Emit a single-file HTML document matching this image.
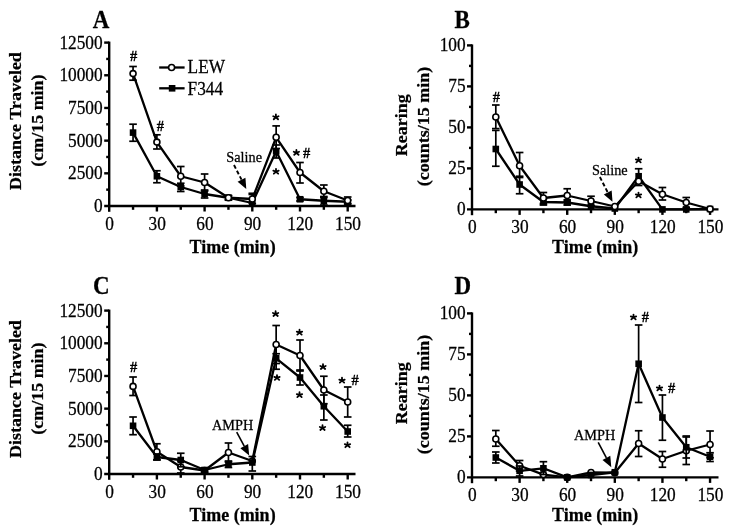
<!DOCTYPE html>
<html><head><meta charset="utf-8"><style>
html,body{margin:0;padding:0;background:#fff;}
body{width:732px;height:531px;overflow:hidden;}
svg{display:block;filter:grayscale(1);}
text{font-family:"Liberation Serif",serif;fill:#000;stroke:#000;stroke-width:0.25px;}
.t{font-size:17.3px;}
.b{font-size:18px;font-weight:bold;}
.L{font-size:23px;font-weight:bold;}
.a{font-size:14.3px;}
.s{font-size:14.5px;}
.h{font-size:14.5px;font-weight:bold;}
</style></head><body>
<svg width="732" height="531" viewBox="0 0 732 531">
<rect width="732" height="531" fill="#fff"/>
<line x1="109.2" y1="41.6" x2="109.2" y2="211.8" stroke="#000" stroke-width="2.4"/>
<line x1="104.2" y1="206" x2="355.5" y2="206" stroke="#000" stroke-width="2.4"/>
<text transform="translate(102.6,212.04) scale(1,1.04)" text-anchor="end" class="t">0</text>
<line x1="106.2" y1="189.66" x2="109.2" y2="189.66" stroke="#000" stroke-width="2.4"/>
<line x1="104.2" y1="173.32" x2="109.2" y2="173.32" stroke="#000" stroke-width="2.4"/>
<text transform="translate(102.6,179.36) scale(1,1.04)" text-anchor="end" class="t">2500</text>
<line x1="106.2" y1="156.98" x2="109.2" y2="156.98" stroke="#000" stroke-width="2.4"/>
<line x1="104.2" y1="140.64" x2="109.2" y2="140.64" stroke="#000" stroke-width="2.4"/>
<text transform="translate(102.6,146.68) scale(1,1.04)" text-anchor="end" class="t">5000</text>
<line x1="106.2" y1="124.3" x2="109.2" y2="124.3" stroke="#000" stroke-width="2.4"/>
<line x1="104.2" y1="107.96" x2="109.2" y2="107.96" stroke="#000" stroke-width="2.4"/>
<text transform="translate(102.6,114) scale(1,1.04)" text-anchor="end" class="t">7500</text>
<line x1="106.2" y1="91.62" x2="109.2" y2="91.62" stroke="#000" stroke-width="2.4"/>
<line x1="104.2" y1="75.28" x2="109.2" y2="75.28" stroke="#000" stroke-width="2.4"/>
<text transform="translate(102.6,81.32) scale(1,1.04)" text-anchor="end" class="t">10000</text>
<line x1="106.2" y1="58.94" x2="109.2" y2="58.94" stroke="#000" stroke-width="2.4"/>
<line x1="104.2" y1="42.6" x2="109.2" y2="42.6" stroke="#000" stroke-width="2.4"/>
<text transform="translate(102.6,48.64) scale(1,1.04)" text-anchor="end" class="t">12500</text>
<text transform="translate(109.5,229.6) scale(1,1.04)" text-anchor="middle" class="t">0</text>
<line x1="133.05" y1="206" x2="133.05" y2="209.8" stroke="#000" stroke-width="2.4"/>
<line x1="156.9" y1="206" x2="156.9" y2="211.5" stroke="#000" stroke-width="2.4"/>
<text transform="translate(157.2,229.6) scale(1,1.04)" text-anchor="middle" class="t">30</text>
<line x1="180.75" y1="206" x2="180.75" y2="209.8" stroke="#000" stroke-width="2.4"/>
<line x1="204.6" y1="206" x2="204.6" y2="211.5" stroke="#000" stroke-width="2.4"/>
<text transform="translate(204.9,229.6) scale(1,1.04)" text-anchor="middle" class="t">60</text>
<line x1="228.45" y1="206" x2="228.45" y2="209.8" stroke="#000" stroke-width="2.4"/>
<line x1="252.3" y1="206" x2="252.3" y2="211.5" stroke="#000" stroke-width="2.4"/>
<text transform="translate(252.6,229.6) scale(1,1.04)" text-anchor="middle" class="t">90</text>
<line x1="276.15" y1="206" x2="276.15" y2="209.8" stroke="#000" stroke-width="2.4"/>
<line x1="300" y1="206" x2="300" y2="211.5" stroke="#000" stroke-width="2.4"/>
<text transform="translate(300.3,229.6) scale(1,1.04)" text-anchor="middle" class="t">120</text>
<line x1="323.85" y1="206" x2="323.85" y2="209.8" stroke="#000" stroke-width="2.4"/>
<line x1="347.7" y1="206" x2="347.7" y2="211.5" stroke="#000" stroke-width="2.4"/>
<text transform="translate(348,229.6) scale(1,1.04)" text-anchor="middle" class="t">150</text>
<line x1="472" y1="44.4" x2="472" y2="215.2" stroke="#000" stroke-width="2.4"/>
<line x1="467" y1="209.4" x2="718.5" y2="209.4" stroke="#000" stroke-width="2.4"/>
<text transform="translate(465.6,215.44) scale(1,1.04)" text-anchor="end" class="t">0</text>
<line x1="469" y1="188.9" x2="472" y2="188.9" stroke="#000" stroke-width="2.4"/>
<line x1="467" y1="168.4" x2="472" y2="168.4" stroke="#000" stroke-width="2.4"/>
<text transform="translate(465.6,174.44) scale(1,1.04)" text-anchor="end" class="t">25</text>
<line x1="469" y1="147.9" x2="472" y2="147.9" stroke="#000" stroke-width="2.4"/>
<line x1="467" y1="127.4" x2="472" y2="127.4" stroke="#000" stroke-width="2.4"/>
<text transform="translate(465.6,133.44) scale(1,1.04)" text-anchor="end" class="t">50</text>
<line x1="469" y1="106.9" x2="472" y2="106.9" stroke="#000" stroke-width="2.4"/>
<line x1="467" y1="86.4" x2="472" y2="86.4" stroke="#000" stroke-width="2.4"/>
<text transform="translate(465.6,92.44) scale(1,1.04)" text-anchor="end" class="t">75</text>
<line x1="469" y1="65.9" x2="472" y2="65.9" stroke="#000" stroke-width="2.4"/>
<line x1="467" y1="45.4" x2="472" y2="45.4" stroke="#000" stroke-width="2.4"/>
<text transform="translate(465.6,51.44) scale(1,1.04)" text-anchor="end" class="t">100</text>
<text transform="translate(472.3,233) scale(1,1.04)" text-anchor="middle" class="t">0</text>
<line x1="495.81" y1="209.4" x2="495.81" y2="213.2" stroke="#000" stroke-width="2.4"/>
<line x1="519.61" y1="209.4" x2="519.61" y2="214.9" stroke="#000" stroke-width="2.4"/>
<text transform="translate(519.91,233) scale(1,1.04)" text-anchor="middle" class="t">30</text>
<line x1="543.41" y1="209.4" x2="543.41" y2="213.2" stroke="#000" stroke-width="2.4"/>
<line x1="567.22" y1="209.4" x2="567.22" y2="214.9" stroke="#000" stroke-width="2.4"/>
<text transform="translate(567.52,233) scale(1,1.04)" text-anchor="middle" class="t">60</text>
<line x1="591.02" y1="209.4" x2="591.02" y2="213.2" stroke="#000" stroke-width="2.4"/>
<line x1="614.83" y1="209.4" x2="614.83" y2="214.9" stroke="#000" stroke-width="2.4"/>
<text transform="translate(615.13,233) scale(1,1.04)" text-anchor="middle" class="t">90</text>
<line x1="638.63" y1="209.4" x2="638.63" y2="213.2" stroke="#000" stroke-width="2.4"/>
<line x1="662.44" y1="209.4" x2="662.44" y2="214.9" stroke="#000" stroke-width="2.4"/>
<text transform="translate(662.74,233) scale(1,1.04)" text-anchor="middle" class="t">120</text>
<line x1="686.25" y1="209.4" x2="686.25" y2="213.2" stroke="#000" stroke-width="2.4"/>
<line x1="710.05" y1="209.4" x2="710.05" y2="214.9" stroke="#000" stroke-width="2.4"/>
<text transform="translate(710.35,233) scale(1,1.04)" text-anchor="middle" class="t">150</text>
<line x1="109.2" y1="309.6" x2="109.2" y2="479.8" stroke="#000" stroke-width="2.4"/>
<line x1="104.2" y1="474" x2="355.5" y2="474" stroke="#000" stroke-width="2.4"/>
<text transform="translate(102.6,480.04) scale(1,1.04)" text-anchor="end" class="t">0</text>
<line x1="106.2" y1="457.66" x2="109.2" y2="457.66" stroke="#000" stroke-width="2.4"/>
<line x1="104.2" y1="441.32" x2="109.2" y2="441.32" stroke="#000" stroke-width="2.4"/>
<text transform="translate(102.6,447.36) scale(1,1.04)" text-anchor="end" class="t">2500</text>
<line x1="106.2" y1="424.98" x2="109.2" y2="424.98" stroke="#000" stroke-width="2.4"/>
<line x1="104.2" y1="408.64" x2="109.2" y2="408.64" stroke="#000" stroke-width="2.4"/>
<text transform="translate(102.6,414.68) scale(1,1.04)" text-anchor="end" class="t">5000</text>
<line x1="106.2" y1="392.3" x2="109.2" y2="392.3" stroke="#000" stroke-width="2.4"/>
<line x1="104.2" y1="375.96" x2="109.2" y2="375.96" stroke="#000" stroke-width="2.4"/>
<text transform="translate(102.6,382) scale(1,1.04)" text-anchor="end" class="t">7500</text>
<line x1="106.2" y1="359.62" x2="109.2" y2="359.62" stroke="#000" stroke-width="2.4"/>
<line x1="104.2" y1="343.28" x2="109.2" y2="343.28" stroke="#000" stroke-width="2.4"/>
<text transform="translate(102.6,349.32) scale(1,1.04)" text-anchor="end" class="t">10000</text>
<line x1="106.2" y1="326.94" x2="109.2" y2="326.94" stroke="#000" stroke-width="2.4"/>
<line x1="104.2" y1="310.6" x2="109.2" y2="310.6" stroke="#000" stroke-width="2.4"/>
<text transform="translate(102.6,316.64) scale(1,1.04)" text-anchor="end" class="t">12500</text>
<text transform="translate(109.5,497.6) scale(1,1.04)" text-anchor="middle" class="t">0</text>
<line x1="133.05" y1="474" x2="133.05" y2="477.8" stroke="#000" stroke-width="2.4"/>
<line x1="156.9" y1="474" x2="156.9" y2="479.5" stroke="#000" stroke-width="2.4"/>
<text transform="translate(157.2,497.6) scale(1,1.04)" text-anchor="middle" class="t">30</text>
<line x1="180.75" y1="474" x2="180.75" y2="477.8" stroke="#000" stroke-width="2.4"/>
<line x1="204.6" y1="474" x2="204.6" y2="479.5" stroke="#000" stroke-width="2.4"/>
<text transform="translate(204.9,497.6) scale(1,1.04)" text-anchor="middle" class="t">60</text>
<line x1="228.45" y1="474" x2="228.45" y2="477.8" stroke="#000" stroke-width="2.4"/>
<line x1="252.3" y1="474" x2="252.3" y2="479.5" stroke="#000" stroke-width="2.4"/>
<text transform="translate(252.6,497.6) scale(1,1.04)" text-anchor="middle" class="t">90</text>
<line x1="276.15" y1="474" x2="276.15" y2="477.8" stroke="#000" stroke-width="2.4"/>
<line x1="300" y1="474" x2="300" y2="479.5" stroke="#000" stroke-width="2.4"/>
<text transform="translate(300.3,497.6) scale(1,1.04)" text-anchor="middle" class="t">120</text>
<line x1="323.85" y1="474" x2="323.85" y2="477.8" stroke="#000" stroke-width="2.4"/>
<line x1="347.7" y1="474" x2="347.7" y2="479.5" stroke="#000" stroke-width="2.4"/>
<text transform="translate(348,497.6) scale(1,1.04)" text-anchor="middle" class="t">150</text>
<line x1="472" y1="312.4" x2="472" y2="483.2" stroke="#000" stroke-width="2.4"/>
<line x1="467" y1="477.4" x2="718.5" y2="477.4" stroke="#000" stroke-width="2.4"/>
<text transform="translate(465.6,483.44) scale(1,1.04)" text-anchor="end" class="t">0</text>
<line x1="469" y1="456.9" x2="472" y2="456.9" stroke="#000" stroke-width="2.4"/>
<line x1="467" y1="436.4" x2="472" y2="436.4" stroke="#000" stroke-width="2.4"/>
<text transform="translate(465.6,442.44) scale(1,1.04)" text-anchor="end" class="t">25</text>
<line x1="469" y1="415.9" x2="472" y2="415.9" stroke="#000" stroke-width="2.4"/>
<line x1="467" y1="395.4" x2="472" y2="395.4" stroke="#000" stroke-width="2.4"/>
<text transform="translate(465.6,401.44) scale(1,1.04)" text-anchor="end" class="t">50</text>
<line x1="469" y1="374.9" x2="472" y2="374.9" stroke="#000" stroke-width="2.4"/>
<line x1="467" y1="354.4" x2="472" y2="354.4" stroke="#000" stroke-width="2.4"/>
<text transform="translate(465.6,360.44) scale(1,1.04)" text-anchor="end" class="t">75</text>
<line x1="469" y1="333.9" x2="472" y2="333.9" stroke="#000" stroke-width="2.4"/>
<line x1="467" y1="313.4" x2="472" y2="313.4" stroke="#000" stroke-width="2.4"/>
<text transform="translate(465.6,319.44) scale(1,1.04)" text-anchor="end" class="t">100</text>
<text transform="translate(472.3,501) scale(1,1.04)" text-anchor="middle" class="t">0</text>
<line x1="495.81" y1="477.4" x2="495.81" y2="481.2" stroke="#000" stroke-width="2.4"/>
<line x1="519.61" y1="477.4" x2="519.61" y2="482.9" stroke="#000" stroke-width="2.4"/>
<text transform="translate(519.91,501) scale(1,1.04)" text-anchor="middle" class="t">30</text>
<line x1="543.41" y1="477.4" x2="543.41" y2="481.2" stroke="#000" stroke-width="2.4"/>
<line x1="567.22" y1="477.4" x2="567.22" y2="482.9" stroke="#000" stroke-width="2.4"/>
<text transform="translate(567.52,501) scale(1,1.04)" text-anchor="middle" class="t">60</text>
<line x1="591.02" y1="477.4" x2="591.02" y2="481.2" stroke="#000" stroke-width="2.4"/>
<line x1="614.83" y1="477.4" x2="614.83" y2="482.9" stroke="#000" stroke-width="2.4"/>
<text transform="translate(615.13,501) scale(1,1.04)" text-anchor="middle" class="t">90</text>
<line x1="638.63" y1="477.4" x2="638.63" y2="481.2" stroke="#000" stroke-width="2.4"/>
<line x1="662.44" y1="477.4" x2="662.44" y2="482.9" stroke="#000" stroke-width="2.4"/>
<text transform="translate(662.74,501) scale(1,1.04)" text-anchor="middle" class="t">120</text>
<line x1="686.25" y1="477.4" x2="686.25" y2="481.2" stroke="#000" stroke-width="2.4"/>
<line x1="710.05" y1="477.4" x2="710.05" y2="482.9" stroke="#000" stroke-width="2.4"/>
<text transform="translate(710.35,501) scale(1,1.04)" text-anchor="middle" class="t">150</text>
<text transform="translate(92.8,27.6) scale(1,1.1)" class="L">A</text>
<text transform="translate(454.6,27.6) scale(1,1.1)" class="L">B</text>
<text transform="translate(92.9,294) scale(1,1.1)" class="L">C</text>
<text transform="translate(454.6,293.6) scale(1,1.1)" class="L">D</text>
<text transform="translate(20.8,121) rotate(-90) scale(1,0.93)" text-anchor="middle" class="b">Distance Traveled</text>
<text transform="translate(42.8,120.6) rotate(-90) scale(1,0.93)" text-anchor="middle" class="b">(cm/15 min)</text>
<text transform="translate(407.3,125.3) rotate(-90) scale(1,0.93)" text-anchor="middle" class="b">Rearing</text>
<text transform="translate(428.7,126.5) rotate(-90) scale(1,0.93)" text-anchor="middle" class="b">(counts/15 min)</text>
<text transform="translate(20.8,389) rotate(-90) scale(1,0.93)" text-anchor="middle" class="b">Distance Traveled</text>
<text transform="translate(42.8,388.6) rotate(-90) scale(1,0.93)" text-anchor="middle" class="b">(cm/15 min)</text>
<text transform="translate(407.3,393.3) rotate(-90) scale(1,0.93)" text-anchor="middle" class="b">Rearing</text>
<text transform="translate(428.7,394.5) rotate(-90) scale(1,0.93)" text-anchor="middle" class="b">(counts/15 min)</text>
<text transform="translate(232.55,252.7) scale(1,1.04)" text-anchor="middle" class="b">Time (min)</text>
<text transform="translate(595.1,252.7) scale(1,1.04)" text-anchor="middle" class="b">Time (min)</text>
<text transform="translate(232.55,520.7) scale(1,1.04)" text-anchor="middle" class="b">Time (min)</text>
<text transform="translate(595.1,520.7) scale(1,1.04)" text-anchor="middle" class="b">Time (min)</text>
<polyline points="133.05,132.6 156.9,176.25 180.75,187 204.6,194 228.45,197.75 252.3,203 276.15,151.25 300,199.25 323.85,200.75 347.7,201.75" fill="none" stroke="#000" stroke-width="2.3" stroke-linejoin="round"/>
<line x1="133.05" y1="124.2" x2="133.05" y2="141.25" stroke="#000" stroke-width="1.7"/>
<line x1="129.25" y1="124.2" x2="136.85" y2="124.2" stroke="#000" stroke-width="1.7"/>
<line x1="129.25" y1="141.25" x2="136.85" y2="141.25" stroke="#000" stroke-width="1.7"/>
<line x1="156.9" y1="170.75" x2="156.9" y2="182.75" stroke="#000" stroke-width="1.7"/>
<line x1="153.1" y1="170.75" x2="160.7" y2="170.75" stroke="#000" stroke-width="1.7"/>
<line x1="153.1" y1="182.75" x2="160.7" y2="182.75" stroke="#000" stroke-width="1.7"/>
<line x1="180.75" y1="183.25" x2="180.75" y2="191.5" stroke="#000" stroke-width="1.7"/>
<line x1="176.95" y1="183.25" x2="184.55" y2="183.25" stroke="#000" stroke-width="1.7"/>
<line x1="176.95" y1="191.5" x2="184.55" y2="191.5" stroke="#000" stroke-width="1.7"/>
<line x1="204.6" y1="190" x2="204.6" y2="198" stroke="#000" stroke-width="1.7"/>
<line x1="200.8" y1="190" x2="208.4" y2="190" stroke="#000" stroke-width="1.7"/>
<line x1="200.8" y1="198" x2="208.4" y2="198" stroke="#000" stroke-width="1.7"/>
<line x1="228.45" y1="196" x2="228.45" y2="199.5" stroke="#000" stroke-width="1.7"/>
<line x1="224.65" y1="196" x2="232.25" y2="196" stroke="#000" stroke-width="1.7"/>
<line x1="224.65" y1="199.5" x2="232.25" y2="199.5" stroke="#000" stroke-width="1.7"/>
<line x1="252.3" y1="193.3" x2="252.3" y2="206" stroke="#000" stroke-width="1.7"/>
<line x1="248.5" y1="193.3" x2="256.1" y2="193.3" stroke="#000" stroke-width="1.7"/>
<line x1="248.5" y1="206" x2="256.1" y2="206" stroke="#000" stroke-width="1.7"/>
<line x1="276.15" y1="145" x2="276.15" y2="158" stroke="#000" stroke-width="1.7"/>
<line x1="272.35" y1="145" x2="279.95" y2="145" stroke="#000" stroke-width="1.7"/>
<line x1="272.35" y1="158" x2="279.95" y2="158" stroke="#000" stroke-width="1.7"/>
<line x1="300" y1="197.5" x2="300" y2="201" stroke="#000" stroke-width="1.7"/>
<line x1="296.2" y1="197.5" x2="303.8" y2="197.5" stroke="#000" stroke-width="1.7"/>
<line x1="296.2" y1="201" x2="303.8" y2="201" stroke="#000" stroke-width="1.7"/>
<line x1="323.85" y1="196.5" x2="323.85" y2="205" stroke="#000" stroke-width="1.7"/>
<line x1="320.05" y1="196.5" x2="327.65" y2="196.5" stroke="#000" stroke-width="1.7"/>
<line x1="320.05" y1="205" x2="327.65" y2="205" stroke="#000" stroke-width="1.7"/>
<line x1="347.7" y1="200" x2="347.7" y2="203.5" stroke="#000" stroke-width="1.7"/>
<line x1="343.9" y1="200" x2="351.5" y2="200" stroke="#000" stroke-width="1.7"/>
<line x1="343.9" y1="203.5" x2="351.5" y2="203.5" stroke="#000" stroke-width="1.7"/>
<rect x="129.75" y="129.3" width="6.6" height="6.6" fill="#000"/>
<rect x="153.6" y="172.95" width="6.6" height="6.6" fill="#000"/>
<rect x="177.45" y="183.7" width="6.6" height="6.6" fill="#000"/>
<rect x="201.3" y="190.7" width="6.6" height="6.6" fill="#000"/>
<rect x="225.15" y="194.45" width="6.6" height="6.6" fill="#000"/>
<rect x="249" y="199.7" width="6.6" height="6.6" fill="#000"/>
<rect x="272.85" y="147.95" width="6.6" height="6.6" fill="#000"/>
<rect x="296.7" y="195.95" width="6.6" height="6.6" fill="#000"/>
<rect x="320.55" y="197.45" width="6.6" height="6.6" fill="#000"/>
<rect x="344.4" y="198.45" width="6.6" height="6.6" fill="#000"/>
<polyline points="133.05,73.6 156.9,142.1 180.75,176.25 204.6,182.5 228.45,197.75 252.3,199 276.15,137.3 300,172.5 323.85,191.25 347.7,200.5" fill="none" stroke="#000" stroke-width="2.3" stroke-linejoin="round"/>
<line x1="133.05" y1="66.5" x2="133.05" y2="80.2" stroke="#000" stroke-width="1.7"/>
<line x1="129.25" y1="66.5" x2="136.85" y2="66.5" stroke="#000" stroke-width="1.7"/>
<line x1="129.25" y1="80.2" x2="136.85" y2="80.2" stroke="#000" stroke-width="1.7"/>
<line x1="156.9" y1="134.8" x2="156.9" y2="149" stroke="#000" stroke-width="1.7"/>
<line x1="153.1" y1="134.8" x2="160.7" y2="134.8" stroke="#000" stroke-width="1.7"/>
<line x1="153.1" y1="149" x2="160.7" y2="149" stroke="#000" stroke-width="1.7"/>
<line x1="180.75" y1="166.5" x2="180.75" y2="186" stroke="#000" stroke-width="1.7"/>
<line x1="176.95" y1="166.5" x2="184.55" y2="166.5" stroke="#000" stroke-width="1.7"/>
<line x1="176.95" y1="186" x2="184.55" y2="186" stroke="#000" stroke-width="1.7"/>
<line x1="204.6" y1="174" x2="204.6" y2="191" stroke="#000" stroke-width="1.7"/>
<line x1="200.8" y1="174" x2="208.4" y2="174" stroke="#000" stroke-width="1.7"/>
<line x1="200.8" y1="191" x2="208.4" y2="191" stroke="#000" stroke-width="1.7"/>
<line x1="228.45" y1="195.5" x2="228.45" y2="200" stroke="#000" stroke-width="1.7"/>
<line x1="224.65" y1="195.5" x2="232.25" y2="195.5" stroke="#000" stroke-width="1.7"/>
<line x1="224.65" y1="200" x2="232.25" y2="200" stroke="#000" stroke-width="1.7"/>
<line x1="252.3" y1="194.5" x2="252.3" y2="203.5" stroke="#000" stroke-width="1.7"/>
<line x1="248.5" y1="194.5" x2="256.1" y2="194.5" stroke="#000" stroke-width="1.7"/>
<line x1="248.5" y1="203.5" x2="256.1" y2="203.5" stroke="#000" stroke-width="1.7"/>
<line x1="276.15" y1="125.9" x2="276.15" y2="148.5" stroke="#000" stroke-width="1.7"/>
<line x1="272.35" y1="125.9" x2="279.95" y2="125.9" stroke="#000" stroke-width="1.7"/>
<line x1="272.35" y1="148.5" x2="279.95" y2="148.5" stroke="#000" stroke-width="1.7"/>
<line x1="300" y1="162.5" x2="300" y2="183" stroke="#000" stroke-width="1.7"/>
<line x1="296.2" y1="162.5" x2="303.8" y2="162.5" stroke="#000" stroke-width="1.7"/>
<line x1="296.2" y1="183" x2="303.8" y2="183" stroke="#000" stroke-width="1.7"/>
<line x1="323.85" y1="185" x2="323.85" y2="197.5" stroke="#000" stroke-width="1.7"/>
<line x1="320.05" y1="185" x2="327.65" y2="185" stroke="#000" stroke-width="1.7"/>
<line x1="320.05" y1="197.5" x2="327.65" y2="197.5" stroke="#000" stroke-width="1.7"/>
<line x1="347.7" y1="197" x2="347.7" y2="204" stroke="#000" stroke-width="1.7"/>
<line x1="343.9" y1="197" x2="351.5" y2="197" stroke="#000" stroke-width="1.7"/>
<line x1="343.9" y1="204" x2="351.5" y2="204" stroke="#000" stroke-width="1.7"/>
<circle cx="133.05" cy="73.6" r="3.0" fill="#fff" stroke="#000" stroke-width="1.6"/>
<circle cx="156.9" cy="142.1" r="3.0" fill="#fff" stroke="#000" stroke-width="1.6"/>
<circle cx="180.75" cy="176.25" r="3.0" fill="#fff" stroke="#000" stroke-width="1.6"/>
<circle cx="204.6" cy="182.5" r="3.0" fill="#fff" stroke="#000" stroke-width="1.6"/>
<circle cx="228.45" cy="197.75" r="3.0" fill="#fff" stroke="#000" stroke-width="1.6"/>
<circle cx="252.3" cy="199" r="3.0" fill="#fff" stroke="#000" stroke-width="1.6"/>
<circle cx="276.15" cy="137.3" r="3.0" fill="#fff" stroke="#000" stroke-width="1.6"/>
<circle cx="300" cy="172.5" r="3.0" fill="#fff" stroke="#000" stroke-width="1.6"/>
<circle cx="323.85" cy="191.25" r="3.0" fill="#fff" stroke="#000" stroke-width="1.6"/>
<circle cx="347.7" cy="200.5" r="3.0" fill="#fff" stroke="#000" stroke-width="1.6"/>
<line x1="159.2" y1="67.5" x2="184.6" y2="67.5" stroke="#000" stroke-width="2.3"/>
<circle cx="171.6" cy="67.5" r="3.0" fill="#fff" stroke="#000" stroke-width="1.6"/>
<line x1="159.2" y1="88.3" x2="184.6" y2="88.3" stroke="#000" stroke-width="2.3"/>
<rect x="168.8" y="85" width="6.6" height="6.6" fill="#000"/>
<text transform="translate(187.6,73.4) scale(1,1.04)" class="t">LEW</text>
<text transform="translate(187.6,94.5) scale(1,1.04)" class="t">F344</text>
<text transform="translate(133.5,61.28) scale(1,1.04)" text-anchor="middle" class="h">#</text>
<text transform="translate(160.4,130.59) scale(1,1.04)" text-anchor="middle" class="h">#</text>
<path d="M275.9,117.35 L275.9,114.45 M275.9,117.35 L278.59,116.26 M275.9,117.35 L278.06,119.29 M275.9,117.35 L273.74,119.29 M275.9,117.35 L273.21,116.26" stroke="#000" stroke-width="1.8" stroke-linecap="round" fill="none"/>
<path d="M276,171.75 L276,168.85 M276,171.75 L278.69,170.66 M276,171.75 L278.16,173.69 M276,171.75 L273.84,173.69 M276,171.75 L273.31,170.66" stroke="#000" stroke-width="1.8" stroke-linecap="round" fill="none"/>
<path d="M296.4,152.85 L296.4,149.95 M296.4,152.85 L299.09,151.76 M296.4,152.85 L298.56,154.79 M296.4,152.85 L294.24,154.79 M296.4,152.85 L293.71,151.76" stroke="#000" stroke-width="1.8" stroke-linecap="round" fill="none"/>
<text transform="translate(306.6,157.69) scale(1,1.04)" text-anchor="middle" class="h">#</text>
<text transform="translate(226.3,162.3) scale(1,1.04)" class="a">Saline</text>
<line x1="234" y1="165" x2="241.51" y2="179.66" stroke="#000" stroke-width="1.9" stroke-dasharray="4,2.4"/>
<path d="M246.3,189 L237.6,181.66 L245.43,177.65 Z" fill="#000"/>
<polyline points="495.81,149 519.61,184.5 543.41,202 567.22,202.5 591.02,206.25 614.83,208.5 638.63,176.25 662.44,209.4 686.25,209.4 710.05,209" fill="none" stroke="#000" stroke-width="2.3" stroke-linejoin="round"/>
<line x1="495.81" y1="130.4" x2="495.81" y2="166.25" stroke="#000" stroke-width="1.7"/>
<line x1="492" y1="130.4" x2="499.61" y2="130.4" stroke="#000" stroke-width="1.7"/>
<line x1="492" y1="166.25" x2="499.61" y2="166.25" stroke="#000" stroke-width="1.7"/>
<line x1="519.61" y1="177.5" x2="519.61" y2="193.75" stroke="#000" stroke-width="1.7"/>
<line x1="515.81" y1="177.5" x2="523.41" y2="177.5" stroke="#000" stroke-width="1.7"/>
<line x1="515.81" y1="193.75" x2="523.41" y2="193.75" stroke="#000" stroke-width="1.7"/>
<line x1="543.41" y1="199" x2="543.41" y2="205" stroke="#000" stroke-width="1.7"/>
<line x1="539.62" y1="199" x2="547.21" y2="199" stroke="#000" stroke-width="1.7"/>
<line x1="539.62" y1="205" x2="547.21" y2="205" stroke="#000" stroke-width="1.7"/>
<line x1="567.22" y1="200" x2="567.22" y2="205" stroke="#000" stroke-width="1.7"/>
<line x1="563.42" y1="200" x2="571.02" y2="200" stroke="#000" stroke-width="1.7"/>
<line x1="563.42" y1="205" x2="571.02" y2="205" stroke="#000" stroke-width="1.7"/>
<line x1="638.63" y1="168.75" x2="638.63" y2="185.5" stroke="#000" stroke-width="1.7"/>
<line x1="634.84" y1="168.75" x2="642.43" y2="168.75" stroke="#000" stroke-width="1.7"/>
<line x1="634.84" y1="185.5" x2="642.43" y2="185.5" stroke="#000" stroke-width="1.7"/>
<rect x="492.5" y="145.7" width="6.6" height="6.6" fill="#000"/>
<rect x="516.31" y="181.2" width="6.6" height="6.6" fill="#000"/>
<rect x="540.12" y="198.7" width="6.6" height="6.6" fill="#000"/>
<rect x="563.92" y="199.2" width="6.6" height="6.6" fill="#000"/>
<rect x="587.73" y="202.95" width="6.6" height="6.6" fill="#000"/>
<rect x="611.53" y="205.2" width="6.6" height="6.6" fill="#000"/>
<rect x="635.34" y="172.95" width="6.6" height="6.6" fill="#000"/>
<rect x="659.14" y="206.1" width="6.6" height="6.6" fill="#000"/>
<rect x="682.95" y="206.1" width="6.6" height="6.6" fill="#000"/>
<rect x="706.75" y="205.7" width="6.6" height="6.6" fill="#000"/>
<polyline points="495.81,117 519.61,165.75 543.41,198 567.22,195.5 591.02,201 614.83,206.5 638.63,181.25 662.44,194.25 686.25,202.5 710.05,209" fill="none" stroke="#000" stroke-width="2.3" stroke-linejoin="round"/>
<line x1="495.81" y1="105" x2="495.81" y2="128.6" stroke="#000" stroke-width="1.7"/>
<line x1="492" y1="105" x2="499.61" y2="105" stroke="#000" stroke-width="1.7"/>
<line x1="492" y1="128.6" x2="499.61" y2="128.6" stroke="#000" stroke-width="1.7"/>
<line x1="519.61" y1="152.5" x2="519.61" y2="176.25" stroke="#000" stroke-width="1.7"/>
<line x1="515.81" y1="152.5" x2="523.41" y2="152.5" stroke="#000" stroke-width="1.7"/>
<line x1="515.81" y1="176.25" x2="523.41" y2="176.25" stroke="#000" stroke-width="1.7"/>
<line x1="543.41" y1="192.5" x2="543.41" y2="203.5" stroke="#000" stroke-width="1.7"/>
<line x1="539.62" y1="192.5" x2="547.21" y2="192.5" stroke="#000" stroke-width="1.7"/>
<line x1="539.62" y1="203.5" x2="547.21" y2="203.5" stroke="#000" stroke-width="1.7"/>
<line x1="567.22" y1="188.75" x2="567.22" y2="202" stroke="#000" stroke-width="1.7"/>
<line x1="563.42" y1="188.75" x2="571.02" y2="188.75" stroke="#000" stroke-width="1.7"/>
<line x1="563.42" y1="202" x2="571.02" y2="202" stroke="#000" stroke-width="1.7"/>
<line x1="591.02" y1="196.25" x2="591.02" y2="205.5" stroke="#000" stroke-width="1.7"/>
<line x1="587.23" y1="196.25" x2="594.82" y2="196.25" stroke="#000" stroke-width="1.7"/>
<line x1="587.23" y1="205.5" x2="594.82" y2="205.5" stroke="#000" stroke-width="1.7"/>
<line x1="662.44" y1="187.5" x2="662.44" y2="200" stroke="#000" stroke-width="1.7"/>
<line x1="658.64" y1="187.5" x2="666.24" y2="187.5" stroke="#000" stroke-width="1.7"/>
<line x1="658.64" y1="200" x2="666.24" y2="200" stroke="#000" stroke-width="1.7"/>
<line x1="686.25" y1="197.5" x2="686.25" y2="207.5" stroke="#000" stroke-width="1.7"/>
<line x1="682.45" y1="197.5" x2="690.04" y2="197.5" stroke="#000" stroke-width="1.7"/>
<line x1="682.45" y1="207.5" x2="690.04" y2="207.5" stroke="#000" stroke-width="1.7"/>
<circle cx="495.81" cy="117" r="3.0" fill="#fff" stroke="#000" stroke-width="1.6"/>
<circle cx="519.61" cy="165.75" r="3.0" fill="#fff" stroke="#000" stroke-width="1.6"/>
<circle cx="543.41" cy="198" r="3.0" fill="#fff" stroke="#000" stroke-width="1.6"/>
<circle cx="567.22" cy="195.5" r="3.0" fill="#fff" stroke="#000" stroke-width="1.6"/>
<circle cx="591.02" cy="201" r="3.0" fill="#fff" stroke="#000" stroke-width="1.6"/>
<circle cx="614.83" cy="206.5" r="3.0" fill="#fff" stroke="#000" stroke-width="1.6"/>
<circle cx="638.63" cy="181.25" r="3.0" fill="#fff" stroke="#000" stroke-width="1.6"/>
<circle cx="662.44" cy="194.25" r="3.0" fill="#fff" stroke="#000" stroke-width="1.6"/>
<circle cx="686.25" cy="202.5" r="3.0" fill="#fff" stroke="#000" stroke-width="1.6"/>
<circle cx="710.05" cy="209" r="3.0" fill="#fff" stroke="#000" stroke-width="1.6"/>
<text transform="translate(496.25,102.28) scale(1,1.04)" text-anchor="middle" class="h">#</text>
<path d="M638.5,160.45 L638.5,157.55 M638.5,160.45 L641.19,159.36 M638.5,160.45 L640.66,162.39 M638.5,160.45 L636.34,162.39 M638.5,160.45 L635.81,159.36" stroke="#000" stroke-width="1.8" stroke-linecap="round" fill="none"/>
<path d="M638.5,195.45 L638.5,192.55 M638.5,195.45 L641.19,194.36 M638.5,195.45 L640.66,197.39 M638.5,195.45 L636.34,197.39 M638.5,195.45 L635.81,194.36" stroke="#000" stroke-width="1.8" stroke-linecap="round" fill="none"/>
<text transform="translate(592,175.3) scale(1,1.04)" class="a">Saline</text>
<line x1="599.9" y1="177" x2="607.74" y2="192.44" stroke="#000" stroke-width="1.9" stroke-dasharray="4,2.4"/>
<path d="M612.5,201.8 L603.82,194.43 L611.67,190.45 Z" fill="#000"/>
<polyline points="133.05,386.4 156.9,451.75 180.75,467 204.6,470.5 228.45,452.5 252.3,461 276.15,344.5 300,355.5 323.85,390 347.7,402" fill="none" stroke="#000" stroke-width="2.3" stroke-linejoin="round"/>
<line x1="133.05" y1="377" x2="133.05" y2="395.5" stroke="#000" stroke-width="1.7"/>
<line x1="129.25" y1="377" x2="136.85" y2="377" stroke="#000" stroke-width="1.7"/>
<line x1="129.25" y1="395.5" x2="136.85" y2="395.5" stroke="#000" stroke-width="1.7"/>
<line x1="156.9" y1="443.75" x2="156.9" y2="459.75" stroke="#000" stroke-width="1.7"/>
<line x1="153.1" y1="443.75" x2="160.7" y2="443.75" stroke="#000" stroke-width="1.7"/>
<line x1="153.1" y1="459.75" x2="160.7" y2="459.75" stroke="#000" stroke-width="1.7"/>
<line x1="180.75" y1="461" x2="180.75" y2="473" stroke="#000" stroke-width="1.7"/>
<line x1="176.95" y1="461" x2="184.55" y2="461" stroke="#000" stroke-width="1.7"/>
<line x1="176.95" y1="473" x2="184.55" y2="473" stroke="#000" stroke-width="1.7"/>
<line x1="204.6" y1="468" x2="204.6" y2="473" stroke="#000" stroke-width="1.7"/>
<line x1="200.8" y1="468" x2="208.4" y2="468" stroke="#000" stroke-width="1.7"/>
<line x1="200.8" y1="473" x2="208.4" y2="473" stroke="#000" stroke-width="1.7"/>
<line x1="228.45" y1="443" x2="228.45" y2="462" stroke="#000" stroke-width="1.7"/>
<line x1="224.65" y1="443" x2="232.25" y2="443" stroke="#000" stroke-width="1.7"/>
<line x1="224.65" y1="462" x2="232.25" y2="462" stroke="#000" stroke-width="1.7"/>
<line x1="276.15" y1="325.5" x2="276.15" y2="363.5" stroke="#000" stroke-width="1.7"/>
<line x1="272.35" y1="325.5" x2="279.95" y2="325.5" stroke="#000" stroke-width="1.7"/>
<line x1="272.35" y1="363.5" x2="279.95" y2="363.5" stroke="#000" stroke-width="1.7"/>
<line x1="300" y1="340" x2="300" y2="371" stroke="#000" stroke-width="1.7"/>
<line x1="296.2" y1="340" x2="303.8" y2="340" stroke="#000" stroke-width="1.7"/>
<line x1="296.2" y1="371" x2="303.8" y2="371" stroke="#000" stroke-width="1.7"/>
<line x1="323.85" y1="376.25" x2="323.85" y2="403.75" stroke="#000" stroke-width="1.7"/>
<line x1="320.05" y1="376.25" x2="327.65" y2="376.25" stroke="#000" stroke-width="1.7"/>
<line x1="320.05" y1="403.75" x2="327.65" y2="403.75" stroke="#000" stroke-width="1.7"/>
<line x1="347.7" y1="387" x2="347.7" y2="417" stroke="#000" stroke-width="1.7"/>
<line x1="343.9" y1="387" x2="351.5" y2="387" stroke="#000" stroke-width="1.7"/>
<line x1="343.9" y1="417" x2="351.5" y2="417" stroke="#000" stroke-width="1.7"/>
<circle cx="133.05" cy="386.4" r="3.0" fill="#fff" stroke="#000" stroke-width="1.6"/>
<circle cx="156.9" cy="451.75" r="3.0" fill="#fff" stroke="#000" stroke-width="1.6"/>
<circle cx="180.75" cy="467" r="3.0" fill="#fff" stroke="#000" stroke-width="1.6"/>
<circle cx="204.6" cy="470.5" r="3.0" fill="#fff" stroke="#000" stroke-width="1.6"/>
<circle cx="228.45" cy="452.5" r="3.0" fill="#fff" stroke="#000" stroke-width="1.6"/>
<circle cx="252.3" cy="461" r="3.0" fill="#fff" stroke="#000" stroke-width="1.6"/>
<circle cx="276.15" cy="344.5" r="3.0" fill="#fff" stroke="#000" stroke-width="1.6"/>
<circle cx="300" cy="355.5" r="3.0" fill="#fff" stroke="#000" stroke-width="1.6"/>
<circle cx="323.85" cy="390" r="3.0" fill="#fff" stroke="#000" stroke-width="1.6"/>
<circle cx="347.7" cy="402" r="3.0" fill="#fff" stroke="#000" stroke-width="1.6"/>
<polyline points="133.05,425.8 156.9,457 180.75,460 204.6,470 228.45,464.25 252.3,462.5 276.15,358.3 300,377.5 323.85,406.25 347.7,431.5" fill="none" stroke="#000" stroke-width="2.3" stroke-linejoin="round"/>
<line x1="133.05" y1="417" x2="133.05" y2="434.7" stroke="#000" stroke-width="1.7"/>
<line x1="129.25" y1="417" x2="136.85" y2="417" stroke="#000" stroke-width="1.7"/>
<line x1="129.25" y1="434.7" x2="136.85" y2="434.7" stroke="#000" stroke-width="1.7"/>
<line x1="156.9" y1="454" x2="156.9" y2="460" stroke="#000" stroke-width="1.7"/>
<line x1="153.1" y1="454" x2="160.7" y2="454" stroke="#000" stroke-width="1.7"/>
<line x1="153.1" y1="460" x2="160.7" y2="460" stroke="#000" stroke-width="1.7"/>
<line x1="180.75" y1="453.25" x2="180.75" y2="466.75" stroke="#000" stroke-width="1.7"/>
<line x1="176.95" y1="453.25" x2="184.55" y2="453.25" stroke="#000" stroke-width="1.7"/>
<line x1="176.95" y1="466.75" x2="184.55" y2="466.75" stroke="#000" stroke-width="1.7"/>
<line x1="204.6" y1="468" x2="204.6" y2="472" stroke="#000" stroke-width="1.7"/>
<line x1="200.8" y1="468" x2="208.4" y2="468" stroke="#000" stroke-width="1.7"/>
<line x1="200.8" y1="472" x2="208.4" y2="472" stroke="#000" stroke-width="1.7"/>
<line x1="228.45" y1="461" x2="228.45" y2="467.5" stroke="#000" stroke-width="1.7"/>
<line x1="224.65" y1="461" x2="232.25" y2="461" stroke="#000" stroke-width="1.7"/>
<line x1="224.65" y1="467.5" x2="232.25" y2="467.5" stroke="#000" stroke-width="1.7"/>
<line x1="252.3" y1="456.5" x2="252.3" y2="471" stroke="#000" stroke-width="1.7"/>
<line x1="248.5" y1="456.5" x2="256.1" y2="456.5" stroke="#000" stroke-width="1.7"/>
<line x1="248.5" y1="471" x2="256.1" y2="471" stroke="#000" stroke-width="1.7"/>
<line x1="276.15" y1="353.75" x2="276.15" y2="369.25" stroke="#000" stroke-width="1.7"/>
<line x1="272.35" y1="353.75" x2="279.95" y2="353.75" stroke="#000" stroke-width="1.7"/>
<line x1="272.35" y1="369.25" x2="279.95" y2="369.25" stroke="#000" stroke-width="1.7"/>
<line x1="300" y1="370" x2="300" y2="385" stroke="#000" stroke-width="1.7"/>
<line x1="296.2" y1="370" x2="303.8" y2="370" stroke="#000" stroke-width="1.7"/>
<line x1="296.2" y1="385" x2="303.8" y2="385" stroke="#000" stroke-width="1.7"/>
<line x1="323.85" y1="395" x2="323.85" y2="420" stroke="#000" stroke-width="1.7"/>
<line x1="320.05" y1="395" x2="327.65" y2="395" stroke="#000" stroke-width="1.7"/>
<line x1="320.05" y1="420" x2="327.65" y2="420" stroke="#000" stroke-width="1.7"/>
<line x1="347.7" y1="425.25" x2="347.7" y2="437" stroke="#000" stroke-width="1.7"/>
<line x1="343.9" y1="425.25" x2="351.5" y2="425.25" stroke="#000" stroke-width="1.7"/>
<line x1="343.9" y1="437" x2="351.5" y2="437" stroke="#000" stroke-width="1.7"/>
<rect x="129.75" y="422.5" width="6.6" height="6.6" fill="#000"/>
<rect x="153.6" y="453.7" width="6.6" height="6.6" fill="#000"/>
<rect x="177.45" y="456.7" width="6.6" height="6.6" fill="#000"/>
<rect x="201.3" y="466.7" width="6.6" height="6.6" fill="#000"/>
<rect x="225.15" y="460.95" width="6.6" height="6.6" fill="#000"/>
<rect x="249" y="459.2" width="6.6" height="6.6" fill="#000"/>
<rect x="272.85" y="355" width="6.6" height="6.6" fill="#000"/>
<rect x="296.7" y="374.2" width="6.6" height="6.6" fill="#000"/>
<rect x="320.55" y="402.95" width="6.6" height="6.6" fill="#000"/>
<rect x="344.4" y="428.2" width="6.6" height="6.6" fill="#000"/>
<text transform="translate(133.5,372.09) scale(1,1.04)" text-anchor="middle" class="h">#</text>
<path d="M275.6,314.05 L275.6,311.15 M275.6,314.05 L278.29,312.96 M275.6,314.05 L277.76,315.99 M275.6,314.05 L273.44,315.99 M275.6,314.05 L272.91,312.96" stroke="#000" stroke-width="1.8" stroke-linecap="round" fill="none"/>
<path d="M277,377.95 L277,375.05 M277,377.95 L279.69,376.86 M277,377.95 L279.16,379.89 M277,377.95 L274.84,379.89 M277,377.95 L274.31,376.86" stroke="#000" stroke-width="1.8" stroke-linecap="round" fill="none"/>
<path d="M299.5,332.65 L299.5,329.75 M299.5,332.65 L302.19,331.56 M299.5,332.65 L301.66,334.59 M299.5,332.65 L297.34,334.59 M299.5,332.65 L296.81,331.56" stroke="#000" stroke-width="1.8" stroke-linecap="round" fill="none"/>
<path d="M299.5,395.15 L299.5,392.25 M299.5,395.15 L302.19,394.06 M299.5,395.15 L301.66,397.09 M299.5,395.15 L297.34,397.09 M299.5,395.15 L296.81,394.06" stroke="#000" stroke-width="1.8" stroke-linecap="round" fill="none"/>
<path d="M323,367.05 L323,364.15 M323,367.05 L325.69,365.96 M323,367.05 L325.16,368.99 M323,367.05 L320.84,368.99 M323,367.05 L320.31,365.96" stroke="#000" stroke-width="1.8" stroke-linecap="round" fill="none"/>
<path d="M322.5,428.05 L322.5,425.15 M322.5,428.05 L325.19,426.96 M322.5,428.05 L324.66,429.99 M322.5,428.05 L320.34,429.99 M322.5,428.05 L319.81,426.96" stroke="#000" stroke-width="1.8" stroke-linecap="round" fill="none"/>
<path d="M342,380.65 L342,377.75 M342,380.65 L344.69,379.56 M342,380.65 L344.16,382.59 M342,380.65 L339.84,382.59 M342,380.65 L339.31,379.56" stroke="#000" stroke-width="1.8" stroke-linecap="round" fill="none"/>
<text transform="translate(355,385.39) scale(1,1.04)" text-anchor="middle" class="h">#</text>
<path d="M347.5,445.25 L347.5,442.35 M347.5,445.25 L350.19,444.16 M347.5,445.25 L349.66,447.19 M347.5,445.25 L345.34,447.19 M347.5,445.25 L344.81,444.16" stroke="#000" stroke-width="1.8" stroke-linecap="round" fill="none"/>
<text transform="translate(212,430) scale(1,1.04)" class="a">AMPH</text>
<line x1="236.7" y1="432.1" x2="244.24" y2="446.15" stroke="#000" stroke-width="1.6"/>
<path d="M249.2,455.4 L240.36,448.23 L248.11,444.07 Z" fill="#000"/>
<polyline points="495.81,439 519.61,465.75 543.41,474.6 567.22,477.4 591.02,472.5 614.83,472.75 638.63,443.5 662.44,459 686.25,450.75 710.05,444.5" fill="none" stroke="#000" stroke-width="2.3" stroke-linejoin="round"/>
<line x1="495.81" y1="430.5" x2="495.81" y2="446.25" stroke="#000" stroke-width="1.7"/>
<line x1="492" y1="430.5" x2="499.61" y2="430.5" stroke="#000" stroke-width="1.7"/>
<line x1="492" y1="446.25" x2="499.61" y2="446.25" stroke="#000" stroke-width="1.7"/>
<line x1="519.61" y1="460.5" x2="519.61" y2="471" stroke="#000" stroke-width="1.7"/>
<line x1="515.81" y1="460.5" x2="523.41" y2="460.5" stroke="#000" stroke-width="1.7"/>
<line x1="515.81" y1="471" x2="523.41" y2="471" stroke="#000" stroke-width="1.7"/>
<line x1="638.63" y1="430.75" x2="638.63" y2="456.5" stroke="#000" stroke-width="1.7"/>
<line x1="634.84" y1="430.75" x2="642.43" y2="430.75" stroke="#000" stroke-width="1.7"/>
<line x1="634.84" y1="456.5" x2="642.43" y2="456.5" stroke="#000" stroke-width="1.7"/>
<line x1="662.44" y1="451.5" x2="662.44" y2="467.25" stroke="#000" stroke-width="1.7"/>
<line x1="658.64" y1="451.5" x2="666.24" y2="451.5" stroke="#000" stroke-width="1.7"/>
<line x1="658.64" y1="467.25" x2="666.24" y2="467.25" stroke="#000" stroke-width="1.7"/>
<line x1="686.25" y1="437" x2="686.25" y2="464.5" stroke="#000" stroke-width="1.7"/>
<line x1="682.45" y1="437" x2="690.04" y2="437" stroke="#000" stroke-width="1.7"/>
<line x1="682.45" y1="464.5" x2="690.04" y2="464.5" stroke="#000" stroke-width="1.7"/>
<line x1="710.05" y1="431" x2="710.05" y2="457.75" stroke="#000" stroke-width="1.7"/>
<line x1="706.25" y1="431" x2="713.85" y2="431" stroke="#000" stroke-width="1.7"/>
<line x1="706.25" y1="457.75" x2="713.85" y2="457.75" stroke="#000" stroke-width="1.7"/>
<circle cx="495.81" cy="439" r="3.0" fill="#fff" stroke="#000" stroke-width="1.6"/>
<circle cx="519.61" cy="465.75" r="3.0" fill="#fff" stroke="#000" stroke-width="1.6"/>
<circle cx="543.41" cy="474.6" r="3.0" fill="#fff" stroke="#000" stroke-width="1.6"/>
<circle cx="567.22" cy="477.4" r="3.0" fill="#fff" stroke="#000" stroke-width="1.6"/>
<circle cx="591.02" cy="472.5" r="3.0" fill="#fff" stroke="#000" stroke-width="1.6"/>
<circle cx="614.83" cy="472.75" r="3.0" fill="#fff" stroke="#000" stroke-width="1.6"/>
<circle cx="638.63" cy="443.5" r="3.0" fill="#fff" stroke="#000" stroke-width="1.6"/>
<circle cx="662.44" cy="459" r="3.0" fill="#fff" stroke="#000" stroke-width="1.6"/>
<circle cx="686.25" cy="450.75" r="3.0" fill="#fff" stroke="#000" stroke-width="1.6"/>
<circle cx="710.05" cy="444.5" r="3.0" fill="#fff" stroke="#000" stroke-width="1.6"/>
<polyline points="495.81,457.5 519.61,470.8 543.41,468.3 567.22,477.4 591.02,475 614.83,472.25 638.63,363.75 662.44,417.5 686.25,447.25 710.05,456.7" fill="none" stroke="#000" stroke-width="2.3" stroke-linejoin="round"/>
<line x1="495.81" y1="452" x2="495.81" y2="463" stroke="#000" stroke-width="1.7"/>
<line x1="492" y1="452" x2="499.61" y2="452" stroke="#000" stroke-width="1.7"/>
<line x1="492" y1="463" x2="499.61" y2="463" stroke="#000" stroke-width="1.7"/>
<line x1="519.61" y1="466" x2="519.61" y2="476" stroke="#000" stroke-width="1.7"/>
<line x1="515.81" y1="466" x2="523.41" y2="466" stroke="#000" stroke-width="1.7"/>
<line x1="515.81" y1="476" x2="523.41" y2="476" stroke="#000" stroke-width="1.7"/>
<line x1="543.41" y1="461.7" x2="543.41" y2="474.5" stroke="#000" stroke-width="1.7"/>
<line x1="539.62" y1="461.7" x2="547.21" y2="461.7" stroke="#000" stroke-width="1.7"/>
<line x1="539.62" y1="474.5" x2="547.21" y2="474.5" stroke="#000" stroke-width="1.7"/>
<line x1="638.63" y1="325" x2="638.63" y2="402.5" stroke="#000" stroke-width="1.7"/>
<line x1="634.84" y1="325" x2="642.43" y2="325" stroke="#000" stroke-width="1.7"/>
<line x1="634.84" y1="402.5" x2="642.43" y2="402.5" stroke="#000" stroke-width="1.7"/>
<line x1="662.44" y1="395" x2="662.44" y2="440.25" stroke="#000" stroke-width="1.7"/>
<line x1="658.64" y1="395" x2="666.24" y2="395" stroke="#000" stroke-width="1.7"/>
<line x1="658.64" y1="440.25" x2="666.24" y2="440.25" stroke="#000" stroke-width="1.7"/>
<line x1="686.25" y1="436" x2="686.25" y2="458" stroke="#000" stroke-width="1.7"/>
<line x1="682.45" y1="436" x2="690.04" y2="436" stroke="#000" stroke-width="1.7"/>
<line x1="682.45" y1="458" x2="690.04" y2="458" stroke="#000" stroke-width="1.7"/>
<line x1="710.05" y1="452.75" x2="710.05" y2="461.5" stroke="#000" stroke-width="1.7"/>
<line x1="706.25" y1="452.75" x2="713.85" y2="452.75" stroke="#000" stroke-width="1.7"/>
<line x1="706.25" y1="461.5" x2="713.85" y2="461.5" stroke="#000" stroke-width="1.7"/>
<rect x="492.5" y="454.2" width="6.6" height="6.6" fill="#000"/>
<rect x="516.31" y="467.5" width="6.6" height="6.6" fill="#000"/>
<rect x="540.12" y="465" width="6.6" height="6.6" fill="#000"/>
<rect x="563.92" y="474.1" width="6.6" height="6.6" fill="#000"/>
<rect x="587.73" y="471.7" width="6.6" height="6.6" fill="#000"/>
<rect x="611.53" y="468.95" width="6.6" height="6.6" fill="#000"/>
<rect x="635.34" y="360.45" width="6.6" height="6.6" fill="#000"/>
<rect x="659.14" y="414.2" width="6.6" height="6.6" fill="#000"/>
<rect x="682.95" y="443.95" width="6.6" height="6.6" fill="#000"/>
<rect x="706.75" y="453.4" width="6.6" height="6.6" fill="#000"/>
<path d="M633.5,317.45 L633.5,314.55 M633.5,317.45 L636.19,316.36 M633.5,317.45 L635.66,319.39 M633.5,317.45 L631.34,319.39 M633.5,317.45 L630.81,316.36" stroke="#000" stroke-width="1.8" stroke-linecap="round" fill="none"/>
<text transform="translate(645.25,321.79) scale(1,1.04)" text-anchor="middle" class="h">#</text>
<path d="M659.5,388.45 L659.5,385.55 M659.5,388.45 L662.19,387.36 M659.5,388.45 L661.66,390.39 M659.5,388.45 L657.34,390.39 M659.5,388.45 L656.81,387.36" stroke="#000" stroke-width="1.8" stroke-linecap="round" fill="none"/>
<text transform="translate(671.5,392.79) scale(1,1.04)" text-anchor="middle" class="h">#</text>
<text transform="translate(574,440.3) scale(1,1.04)" class="a">AMPH</text>
<line x1="598.2" y1="442.4" x2="606.4" y2="457.92" stroke="#000" stroke-width="1.6"/>
<path d="M611.3,467.2 L602.51,459.97 L610.29,455.86 Z" fill="#000"/>
</svg>
</body></html>
